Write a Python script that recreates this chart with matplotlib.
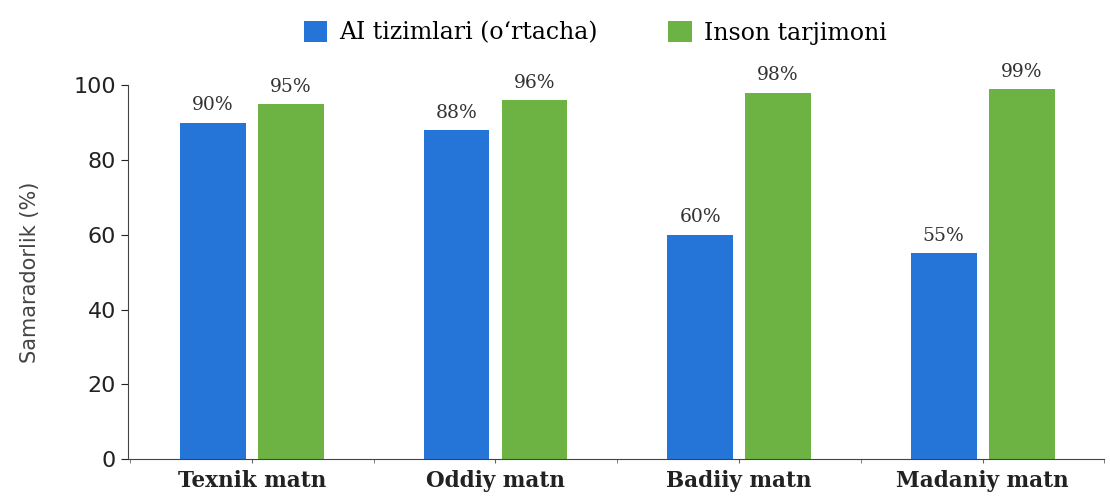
import numpy as np
import matplotlib.pyplot as plt

# Ma'lumotlar
kategoriyalar = ["Texnik matn", "Oddiy matn", "Badiiy matn", "Madaniy matn"]
ai_qiymatlar = [90, 88, 60, 55]
inson_qiymatlar = [95, 96, 98, 99]
yticks = [0, 20, 40, 60, 80, 100]

ko_k = "#2574d8"
yashil = "#6cb343"

x = np.arange(len(kategoriyalar))
w = 0.27
off = 0.16

fig = plt.figure(figsize=(11.1, 4.98), dpi=100)
ax = fig.add_axes([0.115, 0.078, 0.88, 0.751])

b1 = ax.bar(x - off, ai_qiymatlar, w, color=ko_k, label="AI tizimlari (o‘rtacha)")
b2 = ax.bar(x + off, inson_qiymatlar, w, color=yashil, label="Inson tarjimoni")

for bars in (b1, b2):
    for b in bars:
        ax.annotate(f"{int(b.get_height())}%", (b.get_x() + b.get_width() / 2, b.get_height()),
                    xytext=(0, 6), textcoords="offset points", ha="center", va="bottom",
                    fontsize=13.5, family="DejaVu Serif", color="#333333", annotation_clip=False)

ax.set_xlim(-0.51, 3.46)
ax.set_ylim(0, 100)
ax.set_yticks(yticks)
ax.set_xticks(x)
ax.set_xticks(np.arange(-0.5, 3.6, 1.0), minor=True)
ax.set_xticklabels(kategoriyalar, family="DejaVu Serif", fontweight="bold", fontsize=15.5, color="#222222")
ax.tick_params(axis="y", labelsize=16, colors="#222222", length=5)
ax.tick_params(axis="x", which="both", length=3, color="#666666", pad=5)
ax.set_ylabel("Samaradorlik (%)", fontsize=15, color="#444444")
ax.yaxis.set_label_coords(-0.09, 0.5)

for s in ("top", "right"):
    ax.spines[s].set_visible(False)
for s in ("left", "bottom"):
    ax.spines[s].set_color("#444444")

fig.legend(handles=[b1, b2], loc="center", bbox_to_anchor=(0.536, 0.934), ncol=2, frameon=False,
           prop={"family": "DejaVu Serif", "size": 17}, handlelength=1.0, handleheight=1.0,
           columnspacing=3.0, handletextpad=0.5)

fig.savefig("out.png", dpi=100)
